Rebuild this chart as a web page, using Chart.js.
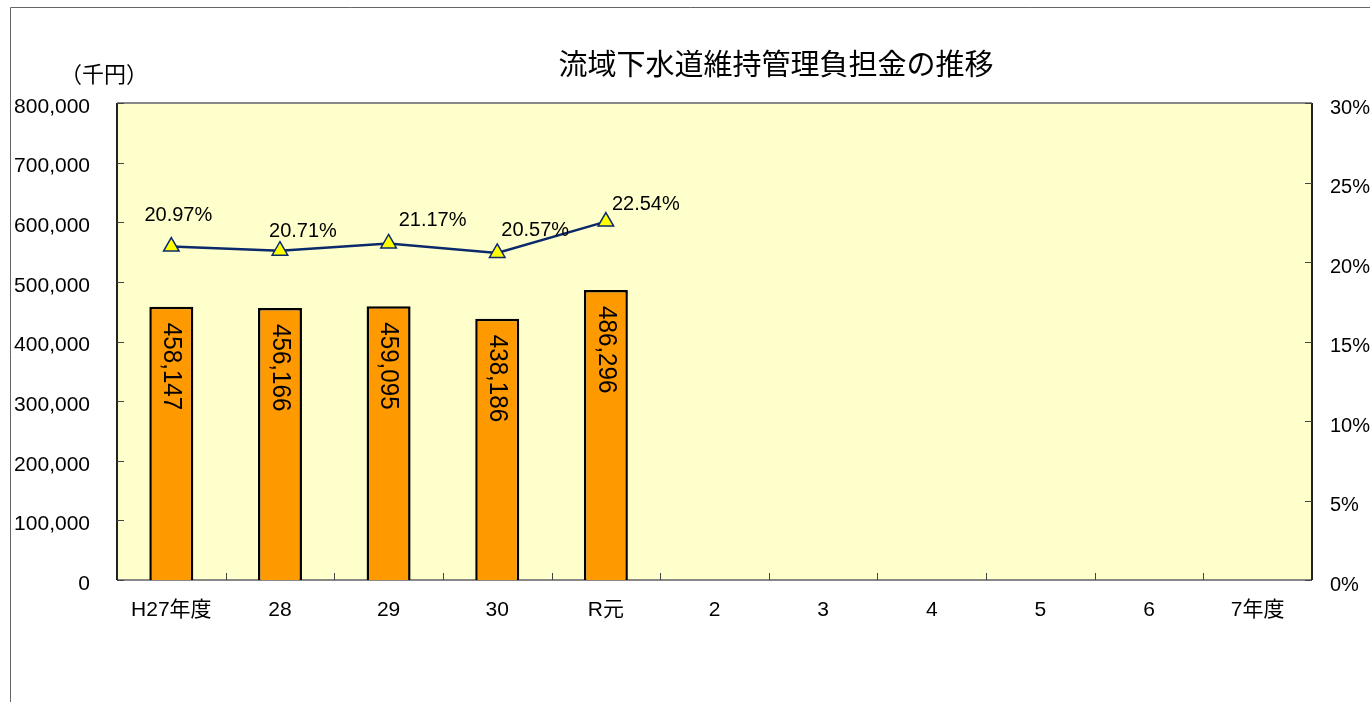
<!DOCTYPE html>
<html>
<head>
<meta charset="utf-8">
<script src="https://cdn.jsdelivr.net/npm/chart.js@4/dist/chart.umd.min.js"></script>
<style>
  html, body { margin: 0; padding: 0; background: #fff; }
  canvas { display: block; }
</style>
</head>
<body>
<canvas id="myChart" width="1370" height="702"></canvas>
<script>
// data
const categories = ['H27年度', '28', '29', '30', 'R元', '2', '3', '4', '5', '6', '7年度'];
const burden = [458147, 456166, 459095, 438186, 486296, null, null, null, null, null, null];
const ratio = [20.97, 20.71, 21.17, 20.57, 22.54, null, null, null, null, null, null];
const leftTicks = [0, 100000, 200000, 300000, 400000, 500000, 600000, 700000, 800000];
const rightTicks = [0, 5, 10, 15, 20, 25, 30];

const FONT = '"Liberation Sans", "Noto Sans CJK JP", sans-serif';
const CJK = '"Noto Sans CJK JP", sans-serif';
Chart.defaults.font.family = FONT;
Chart.defaults.color = '#000';

// label nudges for the percentage labels (Excel-style manual placement)
const ratioLabelShift = [[7, -31], [23, -19], [44, -23], [38, -22], [40, -17]];

const framePlugin = {
  id: 'frame',
  beforeDraw(chart) {
    const ctx = chart.ctx, a = chart.chartArea;
    ctx.save();
    ctx.fillStyle = '#fff';
    ctx.fillRect(0, 0, chart.width, chart.height);
    // outer chart box (cropped on right / bottom)
    ctx.strokeStyle = '#666';
    ctx.lineWidth = 1;
    ctx.beginPath();
    ctx.moveTo(10.5, chart.height);
    ctx.lineTo(10.5, 7.5);
    ctx.lineTo(chart.width, 7.5);
    ctx.stroke();
    ctx.fillStyle = '#FFFFCC';
    ctx.fillRect(a.left, a.top, a.right - a.left, a.bottom - a.top);
    ctx.restore();
  },
  beforeDatasetsDraw(chart) {
    const ctx = chart.ctx, a = chart.chartArea;
    const y = chart.scales.y, y2 = chart.scales.y2, x = chart.scales.x;
    ctx.save();
    ctx.lineWidth = 2;
    ctx.strokeStyle = '#888';
    ctx.beginPath();
    ctx.moveTo(a.left, a.top); ctx.lineTo(a.right, a.top);
    ctx.moveTo(a.left, a.bottom); ctx.lineTo(a.right, a.bottom);
    ctx.stroke();
    ctx.strokeStyle = '#222';
    ctx.beginPath();
    ctx.moveTo(a.left, a.top); ctx.lineTo(a.left, a.bottom);
    ctx.moveTo(a.right, a.top); ctx.lineTo(a.right, a.bottom);
    ctx.stroke();
    ctx.lineWidth = 1;
    ctx.strokeStyle = '#444';
    ctx.beginPath();
    leftTicks.forEach(v => {
      const p = Math.round(y.getPixelForValue(v)) + 0.5;
      ctx.moveTo(a.left, p); ctx.lineTo(a.left + 7, p);
    });
    rightTicks.forEach(v => {
      const p = Math.round(y2.getPixelForValue(v)) + 0.5;
      ctx.moveTo(a.right - 7, p); ctx.lineTo(a.right, p);
    });
    for (let i = 1; i < categories.length; i++) {
      const p = Math.round((x.getPixelForValue(i - 1) + x.getPixelForValue(i)) / 2) + 0.5;
      ctx.moveTo(p, a.bottom); ctx.lineTo(p, a.bottom - 7);
    }
    ctx.stroke();
    ctx.restore();
  },
  afterDatasetsDraw(chart) {
    const ctx = chart.ctx;
    ctx.save();
    ctx.fillStyle = '#000';
    // bar values, rotated
    ctx.font = '26px ' + FONT;
    chart.getDatasetMeta(1).data.forEach((bar, i) => {
      if (burden[i] == null) return;
      ctx.save();
      ctx.translate(bar.x, bar.y + 16);
      ctx.rotate(Math.PI / 2);
      ctx.scale(0.93, 1);
      ctx.textAlign = 'left';
      ctx.textBaseline = 'middle';
      ctx.fillText(burden[i].toLocaleString('en-US'), 0, 0);
      ctx.restore();
    });
    // ratio labels
    ctx.font = '20px ' + FONT;
    ctx.textAlign = 'center';
    ctx.textBaseline = 'middle';
    chart.getDatasetMeta(0).data.forEach((pt, i) => {
      if (ratio[i] == null) return;
      const s = ratioLabelShift[i] || [0, -28];
      ctx.fillText(ratio[i].toFixed(2) + '%', pt.x + s[0], pt.y + s[1]);
    });
    ctx.restore();
  },
  afterDraw(chart) {
    const ctx = chart.ctx;
    ctx.save();
    ctx.fillStyle = '#000';
    ctx.textAlign = 'center';
    ctx.textBaseline = 'middle';
    ctx.font = '29px ' + CJK;
    ctx.fillText('流域下水道維持管理負担金の推移', 776, 64);
    ctx.font = '22px ' + CJK;
    ctx.fillText('（千円）', 104, 74);
    ctx.restore();
  }
};

const ctx = document.getElementById('myChart').getContext('2d');
const myChart = new Chart(ctx, {
  data: {
    labels: categories,
    datasets: [{
      type: 'line',
      label: '負担率',
      data: ratio,
      yAxisID: 'y2',
      order: 0,
      borderColor: '#0B2A6B',
      borderWidth: 2.5,
      tension: 0,
      pointStyle: 'triangle',
      pointRadius: 9,
      pointBackgroundColor: '#FFFF00',
      pointBorderColor: '#0B2A6B',
      pointBorderWidth: 1.5
    }, {
      type: 'bar',
      label: '負担金',
      data: burden,
      yAxisID: 'y',
      order: 1,
      backgroundColor: '#FF9900',
      borderColor: '#000',
      borderWidth: 2.5,
      categoryPercentage: 1,
      barPercentage: 0.405
    }]
  },
  options: {
    responsive: false,
    animation: false,
    devicePixelRatio: 1,
    layout: { padding: { top: 103, left: 0, right: 0, bottom: 0 } },
    plugins: {
      legend: { display: false },
      tooltip: { enabled: false },
      title: { display: false }
    },
    scales: {
      x: {
        grid: { display: false, drawTicks: false },
        border: { display: false },
        ticks: { font: { size: 21 }, color: '#000', padding: 18, maxRotation: 0, autoSkip: false },
        afterFit(s) { s.height = 122; }
      },
      y: {
        position: 'left',
        min: 0,
        max: 800000,
        grid: { display: false, drawTicks: false },
        border: { display: false },
        ticks: {
          stepSize: 100000,
          font: { size: 21 },
          color: '#000',
          padding: 27,
          labelOffset: 4,
          callback: v => v.toLocaleString('en-US')
        },
        afterFit(s) { s.width = 117; }
      },
      y2: {
        position: 'right',
        min: 0,
        max: 30,
        grid: { display: false, drawTicks: false },
        border: { display: false },
        ticks: {
          stepSize: 5,
          font: { size: 20 },
          color: '#000',
          padding: 18,
          labelOffset: 5,
          callback: v => v + '%'
        },
        afterFit(s) { s.width = 58; }
      }
    }
  },
  plugins: [framePlugin]
});
</script>
</body>
</html>
